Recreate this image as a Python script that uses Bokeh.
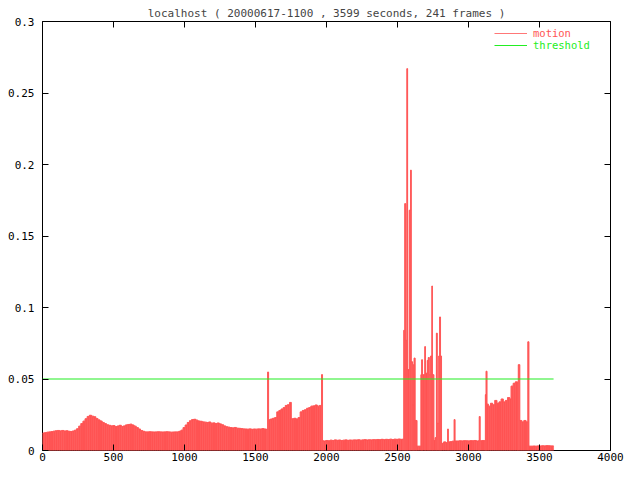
from bokeh.plotting import figure
from bokeh.models import (Range1d, FixedTicker, LinearAxis, Legend, LegendItem, Title,
                          CustomJSTickFormatter)
from bokeh.embed import file_html
from bokeh.resources import INLINE

# ---------------- data ----------------
title_text = "localhost ( 20000617-1100 , 3599 seconds, 241 frames )"
duration = 3599
threshold = 0.05

times = [
    0, 15, 30, 45, 60, 75, 90, 105, 120, 135, 150, 165, 180, 195, 210, 225, 240, 255, 270, 285,
    300, 315, 330, 345, 360, 375, 390, 405, 420, 435, 450, 465, 480, 495, 510, 525, 540, 555, 570, 585,
    600, 615, 630, 645, 660, 675, 690, 705, 720, 735, 750, 765, 780, 795, 810, 825, 840, 855, 870, 885,
    900, 915, 930, 945, 960, 975, 990, 1005, 1020, 1035, 1050, 1065, 1080, 1095, 1110, 1125, 1140, 1155,
    1170, 1185, 1200, 1215, 1230, 1245, 1260, 1275, 1290, 1305, 1320, 1335, 1350, 1365, 1380, 1395,
    1410, 1425, 1440, 1455, 1470, 1485, 1500, 1515, 1530, 1545, 1560, 1575,
    1585, 1592, 1605, 1620, 1635, 1650, 1665, 1680, 1695, 1710, 1725, 1740, 1752, 1770, 1785, 1800,
    1815, 1830, 1845, 1860, 1875, 1890, 1905, 1920, 1935, 1950, 1965, 1972,
    1980, 1995, 2010, 2025, 2040, 2055, 2070, 2085, 2100, 2115, 2130, 2145, 2160, 2175, 2190, 2205,
    2220, 2235, 2250, 2265, 2280, 2295, 2310, 2325, 2340, 2355, 2370, 2385, 2400, 2415, 2430, 2445,
    2460, 2475, 2490, 2505, 2520, 2535,
    2544, 2551, 2558, 2566, 2571, 2583, 2592, 2597, 2606, 2612, 2617, 2624, 2632, 2637, 2650,
    2665, 2670, 2676, 2692, 2697, 2710, 2717, 2724, 2733, 2742, 2746, 2756, 2765, 2774, 2780,
    2790, 2796, 2803, 2810, 2825, 2840, 2853, 2858, 2870, 2885, 2899, 2905,
    2920, 2935, 2950, 2965, 2980, 2995, 3010, 3025, 3040, 3055, 3070, 3076, 3082, 3095, 3110,
    3119, 3124, 3130, 3140, 3155, 3170, 3185, 3200, 3215, 3230, 3245, 3260, 3275, 3290,
    3300, 3315, 3330, 3345, 3351, 3361, 3375, 3390, 3405, 3418, 3425,
    3440, 3455, 3470, 3485, 3500, 3515, 3530, 3545, 3560, 3575,
]

motion = [
    0.0122, 0.0125, 0.0128, 0.0130, 0.0132, 0.0135, 0.0138, 0.0140, 0.0137, 0.0140, 0.0136, 0.0138,
    0.0134, 0.0133, 0.0136, 0.0142, 0.0152, 0.0170, 0.0188, 0.0205,
    0.0222, 0.0238, 0.0246, 0.0240, 0.0236, 0.0224, 0.0214, 0.0206, 0.0196, 0.0188, 0.0180, 0.0176,
    0.0172, 0.0174, 0.0168, 0.0171, 0.0176, 0.0168, 0.0172, 0.0179,
    0.0182, 0.0184, 0.0178, 0.0170, 0.0160, 0.0150, 0.0140, 0.0134, 0.0130, 0.0130, 0.0131, 0.0130,
    0.0129, 0.0130, 0.0131, 0.0130, 0.0129, 0.0130, 0.0131, 0.0130,
    0.0128, 0.0129, 0.0130, 0.0130, 0.0134, 0.0142, 0.0160, 0.0178, 0.0196, 0.0208, 0.0216, 0.0218,
    0.0212, 0.0206, 0.0204, 0.0200, 0.0198, 0.0196,
    0.0199, 0.0191, 0.0193, 0.0189, 0.0192, 0.0186, 0.0180, 0.0172, 0.0166, 0.0163, 0.0160, 0.0158,
    0.0161, 0.0156, 0.0155, 0.0153,
    0.0151, 0.0150, 0.0149, 0.0151, 0.0148, 0.0150, 0.0149, 0.0151, 0.0150, 0.0153, 0.0150, 0.0148,
    0.0548, 0.0215, 0.0220, 0.0225, 0.0230, 0.0270, 0.0280, 0.0290, 0.0300, 0.0315, 0.0320, 0.0336,
    0.0222, 0.0225, 0.0220, 0.0230,
    0.0270, 0.0280, 0.0285, 0.0295, 0.0300, 0.0310, 0.0312, 0.0318, 0.0310, 0.0315, 0.0530, 0.0068,
    0.0066, 0.0070, 0.0068, 0.0072, 0.0070, 0.0074, 0.0071, 0.0073, 0.0070, 0.0072, 0.0074, 0.0071,
    0.0073, 0.0072, 0.0074, 0.0073,
    0.0075, 0.0072, 0.0074, 0.0076, 0.0073, 0.0075, 0.0074, 0.0076, 0.0075, 0.0077, 0.0076, 0.0078,
    0.0076, 0.0078, 0.0077, 0.0079,
    0.0077, 0.0079, 0.0078, 0.0080, 0.0078, 0.0079,
    0.084, 0.1726, 0.077, 0.267, 0.0566, 0.168, 0.196, 0.062, 0.032, 0.060, 0.0646, 0.021, 0.021,
    0.003, 0.003,
    0.053, 0.0634, 0.053, 0.0726, 0.054, 0.063, 0.065, 0.053, 0.066, 0.115, 0.053, 0.007, 0.009,
    0.082, 0.019,
    0.066, 0.0933, 0.066, 0.005, 0.006, 0.0055, 0.015, 0.006, 0.0062, 0.0065, 0.0216, 0.0066,
    0.0066, 0.0068, 0.0067, 0.0069, 0.0068, 0.0067, 0.0069, 0.0068, 0.0070, 0.0066, 0.0068, 0.0237,
    0.0068, 0.0070, 0.0069,
    0.039, 0.0554, 0.0324, 0.031, 0.033, 0.032, 0.035, 0.033, 0.034, 0.036, 0.034, 0.035, 0.037, 0.036,
    0.045, 0.047, 0.048, 0.047, 0.060, 0.021, 0.020, 0.021, 0.020, 0.076, 0.003,
    0.0030, 0.0031, 0.0030, 0.0032, 0.0031, 0.0033, 0.0032, 0.0034, 0.0033, 0.0032,
]

x_ticks = [0, 500, 1000, 1500, 2000, 2500, 3000, 3500, 4000]
y_ticks = [0, 0.05, 0.1, 0.15, 0.2, 0.25, 0.3]
y_tick_labels = ["0", "0.05", "0.1", "0.15", "0.2", "0.25", "0.3"]

# ---------------- styling ----------------
FONT = "DejaVu Sans Mono"
FS = "11px"
RED = "#ff5454"
GREEN = "#22ee22"

p = figure(width=624, height=464, output_backend="svg", toolbar_location=None,
           x_range=Range1d(0, 4000), y_range=Range1d(0, 0.3),
           min_border_left=42, min_border_right=14, min_border_top=21, min_border_bottom=14)
p.title = Title(text=title_text, align="center", text_font=FONT, text_font_size=FS,
                text_font_style="normal", standoff=4, offset=0)
p.grid.visible = False
p.outline_line_color = "black"
p.outline_line_width = 1
p.background_fill_color = "white"
p.border_fill_color = "white"

lefts = times
rights = times[1:] + [duration]
p.quad(left=lefts, right=rights, bottom=0, top=motion,
       fill_color=RED, line_color=RED, line_width=0.6)
mot = p.step(times + [duration], motion + [motion[-1]], mode="after",
             line_color=RED, line_width=0.8)

thr = p.line([0, duration], [threshold, threshold], line_color=GREEN, line_width=1.2)


def style_axis(ax, ticks, labels=True):
    ax.ticker = FixedTicker(ticks=ticks)
    ax.major_tick_in = 6
    ax.major_tick_out = 0
    ax.minor_tick_in = 0
    ax.minor_tick_out = 0
    ax.axis_line_color = None
    ax.major_tick_line_color = "black"
    ax.major_label_text_font = FONT
    ax.major_label_text_font_size = FS
    ax.major_label_text_color = "black"
    if not labels:
        ax.formatter = CustomJSTickFormatter(code="return ''")
        ax.major_label_standoff = 0


xa = p.xaxis[0]
ya = p.yaxis[0]
style_axis(xa, x_ticks)
style_axis(ya, y_ticks)
xa.major_label_standoff = 2
ya.major_label_overrides = {t: l for t, l in zip(y_ticks, y_tick_labels)}
ya.major_label_standoff = 8

top_ax = LinearAxis()
right_ax = LinearAxis()
p.add_layout(top_ax, "above")
p.add_layout(right_ax, "right")
style_axis(top_ax, x_ticks, labels=False)
style_axis(right_ax, y_ticks, labels=False)

for k, (item, col) in enumerate(((LegendItem(label="motion", renderers=[mot]), RED),
                                 (LegendItem(label="threshold", renderers=[thr]), GREEN))):
    lg = Legend(items=[item], location=(452, 411 - 12 * k), orientation="vertical",
                label_text_font=FONT, label_text_font_size="10.5px", label_text_color=col,
                background_fill_alpha=0, border_line_color=None,
                padding=0, margin=0, spacing=0, glyph_width=33, glyph_height=10,
                label_height=10, label_standoff=6)
    p.add_layout(lg)

open("out.html", "w").write(file_html(p, INLINE))
